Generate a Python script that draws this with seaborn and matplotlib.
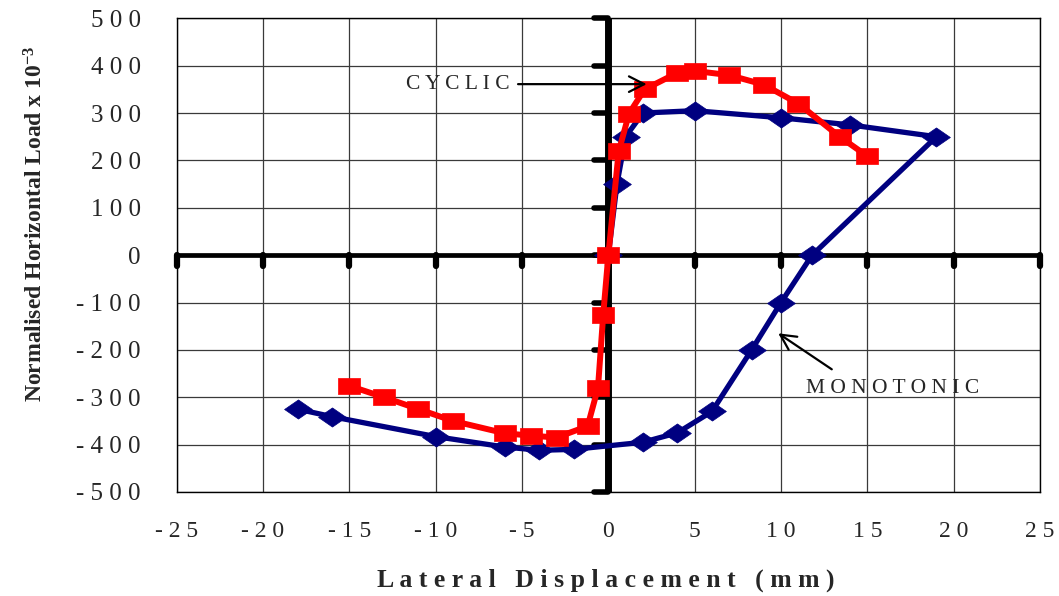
import matplotlib
matplotlib.use("Agg")
import matplotlib.pyplot as plt
from matplotlib.markers import MarkerStyle
import seaborn as sns
import pandas as pd

# monotonic test (blue diamonds)
mono_x = [0, 0.5, 1.0, 2, 5, 10, 14, 19, 11.8, 10, 8.3, 6, 4, 2, -2, -4, -6, -10, -16, -18]
mono_y = [0, 150, 250, 300, 305, 290, 275, 250, 0, -100, -200, -330, -375, -395, -410, -412, -405, -383, -341, -325]

# cyclic test envelope (red squares)
cyc_x = [-15, -13, -11, -9, -6, -4.5, -3, -1.2, -0.6, -0.3, 0, 0.6, 1.2, 2.1, 4, 5, 7, 9, 11, 13.4, 15]
cyc_y = [-276, -300, -325, -350, -376, -381, -385, -361, -280, -127, 0, 219, 299, 350, 385, 389, 380, 360, 320, 250, 209]

x_ticks = [-25, -20, -15, -10, -5, 0, 5, 10, 15, 20, 25]
x_labels = ["- 2 5", "- 2 0", "- 1 5", "- 1 0", "- 5", "0", "5", "1 0", "1 5", "2 0", "2 5"]
y_ticks = [500, 400, 300, 200, 100, 0, -100, -200, -300, -400, -500]
y_labels = ["5 0 0", "4 0 0", "3 0 0", "2 0 0", "1 0 0", "0",
            "- 1 0 0", "- 2 0 0", "- 3 0 0", "- 4 0 0", "- 5 0 0"]

sns.set_style("white")
plt.rcParams["font.family"] = ["Liberation Serif", "DejaVu Serif"]
plt.rcParams["mathtext.fontset"] = "custom"
plt.rcParams["mathtext.rm"] = "Liberation Serif:bold"
plt.rcParams["mathtext.bf"] = "Liberation Serif:bold"
plt.rcParams["mathtext.it"] = "Liberation Serif:bold"

W, H = 1059, 596
fig = plt.figure(figsize=(W / 100, H / 100), dpi=100)
ax = fig.add_axes([176.7 / W, 1 - 492 / H, (1040 - 176.7) / W, (492 - 18.3) / H])

ax.set_xlim(-25, 25)
ax.set_ylim(-500, 500)
ax.set_xticks(x_ticks)
ax.set_xticklabels(x_labels, fontsize=17)
ax.set_yticks(y_ticks)
ax.set_yticklabels(y_labels, fontsize=18)
ax.tick_params(axis="x", length=0, pad=21)
ax.tick_params(axis="y", length=0, pad=26)
ax.grid(True, color="#3a3a3a", lw=0.9)
ax.set_axisbelow(True)
for sp in ax.spines.values():
    sp.set_visible(True)
    sp.set_color("black")
    sp.set_linewidth(1.0)

# thick axes crossing at zero, with their tick stubs
ax.axhline(0, color="black", lw=3.4, zorder=1.5)
ax.axvline(0, color="black", lw=5.0, zorder=1.5)
ax.plot([0] * len(y_ticks), y_ticks, ls="none", color="black",
        marker=MarkerStyle(0, capstyle="round"), ms=10, mew=4, clip_on=False, zorder=1.6)
ax.plot(x_ticks, [0] * len(x_ticks), ls="none", color="black",
        marker=MarkerStyle(3, capstyle="round"), ms=8, mew=4.5, clip_on=False, zorder=1.6)

diamond = [(-1.45, 0), (0, 1), (1.45, 0), (0, -1), (-1.45, 0)]
rect = [(-1.47, -1), (1.47, -1), (1.47, 1), (-1.47, 1), (-1.47, -1)]

mono = pd.DataFrame({"x": mono_x, "y": mono_y})
cyc = pd.DataFrame({"x": cyc_x, "y": cyc_y})
sns.lineplot(data=mono, x="x", y="y", sort=False, estimator=None, ax=ax,
             color="#000080", lw=3.8, marker=diamond, ms=20, mec="#000080", mew=0.5, zorder=3)
sns.lineplot(data=cyc, x="x", y="y", sort=False, estimator=None, ax=ax,
             color="#ff0000", lw=4.3, marker=rect, ms=16, mec="#ff0000", mew=0.5, zorder=4)
ax.set_xlabel("")
ax.set_ylabel("")

arrow = dict(arrowstyle="->, head_length=0.55, head_width=0.28", color="black",
             lw=1.6, shrinkA=0, shrinkB=0, mutation_scale=20)
ax.annotate("", xy=(2.22, 361), xytext=(-5.23, 361), arrowprops=arrow, zorder=5)
ax.text(-5.7, 350, "C Y C L I C", ha="right", va="baseline", fontsize=15.5)
ax.annotate("", xy=(9.84, -165), xytext=(12.94, -241), arrowprops=arrow, zorder=5)
ax.text(11.45, -292, "M O N O T O N I C", ha="left", va="baseline", fontsize=15.5)

fig.text(606 / W, 1 - 587 / H, "L a t e r a l   D i s p l a c e m e n t   ( m m )",
         ha="center", va="baseline", fontsize=18.5, fontweight="bold")
fig.text(43 / W, 1 - 224 / H, r"Normalised Horizontal Load x 10$^{-3}$",
         rotation=90, rotation_mode="anchor", ha="center", va="baseline",
         fontsize=17, fontweight="bold")

fig.savefig("out.png", dpi=100)
